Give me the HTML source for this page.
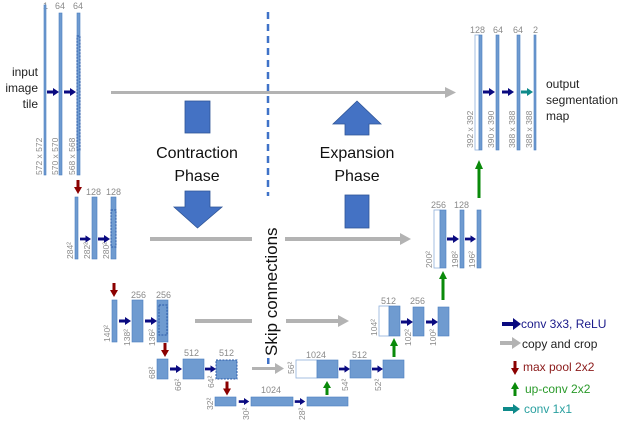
<!DOCTYPE html>
<html><head><meta charset="utf-8"><style>
html,body{margin:0;padding:0;background:#fff;}
svg{display:block;font-family:"Liberation Sans",sans-serif;}
.l{fill:#8a8a8a;font-size:9px;}
.r{fill:#8a8a8a;font-size:8.5px;}
.b{fill:#6f9bd0;stroke:#4a7fc0;stroke-width:0.6;}
.w{fill:#fff;stroke:#8fb0da;stroke-width:0.8;}
.d{fill:#6f9bd0;stroke:#2a5aa8;stroke-width:1;stroke-dasharray:2,1.2;}
.g{fill:#0a8a0a;}
</style></head><body>
<svg width="632" height="446" viewBox="0 0 632 446" xmlns="http://www.w3.org/2000/svg">
<defs>
<symbol id="na" viewBox="0 0 12 8" overflow="visible"><path d="M0,2.5H6V0L12,4L6,8V5.5H0Z" fill="#0a0a80"/></symbol>
<symbol id="ta" viewBox="0 0 12 8" overflow="visible"><path d="M0,2.5H6V0L12,4L6,8V5.5H0Z" fill="#0e8a8a"/></symbol>
<symbol id="ra" viewBox="0 0 8 14" overflow="visible"><path d="M2.5,0H5.5V7H8L4,14L0,7H2.5Z" fill="#8b0000"/></symbol>
</defs>

<!-- gray copy arrows -->
<g fill="#b3b3b3">
<rect x="111" y="91" width="336" height="3"/><path d="M445,87L456,92.5L445,98Z"/>
<rect x="150" y="237" width="102" height="4"/><rect x="285" y="237" width="116" height="4"/><path d="M400,233L411,239L400,245Z"/>
<rect x="195" y="319" width="57" height="4"/><rect x="286" y="319" width="53" height="4"/><path d="M338,315L349,321L338,327Z"/>
<rect x="252" y="367" width="24" height="3"/><path d="M275,363L284,368.5L275,374Z"/>
</g>

<!-- dashed vertical -->
<line x1="268" y1="12" x2="268" y2="196" stroke="#3f72c8" stroke-width="2.5" stroke-dasharray="7,5"/>
<rect x="267" y="358" width="2.5" height="6" fill="#3f72c8"/>
<text transform="translate(277,356) rotate(-90)" font-size="17" fill="#111">Skip connections</text>

<!-- big shapes -->
<rect x="185" y="101" width="25" height="32" fill="#4472c4" stroke="#2f5597" stroke-width="0.8"/>
<text x="197" y="158" font-size="16" text-anchor="middle" fill="#111">Contraction</text>
<text x="197" y="181" font-size="16" text-anchor="middle" fill="#111">Phase</text>
<path d="M185,191H210V207H222L197.5,228L174,207H185Z" fill="#4472c4" stroke="#2f5597" stroke-width="0.8"/>
<path d="M345,135H369V124H381L357,101L333,124H345Z" fill="#4472c4" stroke="#2f5597" stroke-width="0.8"/>
<text x="357" y="158" font-size="16" text-anchor="middle" fill="#111">Expansion</text>
<text x="357" y="181" font-size="16" text-anchor="middle" fill="#111">Phase</text>
<rect x="345" y="195" width="24" height="33" fill="#4472c4" stroke="#2f5597" stroke-width="0.8"/>

<!-- level 1 -->
<text x="43" y="9" class="l">1</text><text x="55" y="9" class="l">64</text><text x="73" y="9" class="l">64</text>
<rect x="44" y="5" width="2" height="170" class="b"/>
<rect x="59" y="13" width="3" height="162" class="b"/>
<rect x="77" y="13" width="3" height="162" class="b"/>
<rect x="77" y="36" width="3" height="114" class="d"/>
<text x="38" y="76" font-size="12" text-anchor="end" fill="#222">input</text>
<text x="38" y="92" font-size="12" text-anchor="end" fill="#222">image</text>
<text x="38" y="108" font-size="12" text-anchor="end" fill="#222">tile</text>
<use href="#na" x="47" y="88" width="12" height="8"/><use href="#na" x="64" y="88" width="12" height="8"/>
<text transform="translate(42,175) rotate(-90)" class="r">572 x 572</text>
<text transform="translate(58,175) rotate(-90)" class="r">570 x 570</text>
<text transform="translate(75,175) rotate(-90)" class="r">568 x 568</text>
<use href="#ra" x="74" y="180" width="8" height="14"/>

<!-- level 2 -->
<text x="86" y="195" class="l">128</text><text x="106" y="195" class="l">128</text>
<rect x="75" y="197" width="3" height="62" class="b"/>
<rect x="92" y="197" width="5" height="62" class="b"/>
<rect x="111" y="197" width="5" height="62" class="b"/>
<rect x="111" y="210" width="5" height="37" class="d"/>
<use href="#na" x="80" y="235" width="11" height="8"/><use href="#na" x="98" y="235" width="12" height="8"/>
<text transform="translate(73,259) rotate(-90)" class="r">284²</text>
<text transform="translate(90,259) rotate(-90)" class="r">282²</text>
<text transform="translate(109,259) rotate(-90)" class="r">280²</text>
<use href="#ra" x="110" y="283" width="8" height="14"/>

<!-- level 3 -->
<text x="131" y="298" class="l">256</text><text x="156" y="298" class="l">256</text>
<rect x="112" y="300" width="5" height="42" class="b"/>
<rect x="132" y="300" width="11" height="42" class="b"/>
<rect x="157" y="300" width="11" height="42" class="b"/>
<rect x="159" y="305" width="8" height="30" class="d"/>
<use href="#na" x="119" y="317" width="12" height="8"/><use href="#na" x="145" y="317" width="12" height="8"/>
<text transform="translate(110,342) rotate(-90)" class="r">140²</text>
<text transform="translate(130,346) rotate(-90)" class="r">138²</text>
<text transform="translate(155,346) rotate(-90)" class="r">136²</text>
<use href="#ra" x="161" y="343" width="8" height="14"/>

<!-- level 4 -->
<text x="184" y="356" class="l">512</text><text x="219" y="356" class="l">512</text>
<rect x="157" y="359" width="11" height="20" class="b"/>
<rect x="183" y="359" width="21" height="20" class="b"/>
<rect x="216" y="360" width="21" height="19" class="d"/>
<use href="#na" x="170" y="365" width="12" height="8"/><use href="#na" x="205" y="365" width="11" height="8"/>
<text transform="translate(155,379) rotate(-90)" class="r">68²</text>
<text transform="translate(181,391) rotate(-90)" class="r">66²</text>
<text transform="translate(214,388) rotate(-90)" class="r">64²</text>
<use href="#ra" x="223" y="381" width="8" height="15"/>

<!-- level 5 -->
<text x="261" y="393" class="l">1024</text>
<rect x="215" y="397" width="21" height="9" class="b"/>
<rect x="251" y="397" width="42" height="9" class="b"/>
<rect x="307" y="397" width="41" height="9" class="b"/>
<use href="#na" x="238" y="398" width="12" height="7"/><use href="#na" x="294" y="398" width="12" height="7"/>
<text transform="translate(213,410) rotate(-90)" class="r">32²</text>
<text transform="translate(249,420) rotate(-90)" class="r">30²</text>
<text transform="translate(305,420) rotate(-90)" class="r">28²</text>
<path class="g" d="M325.5,395V388H323L327,381L331,388H328.5V395Z"/>

<!-- right level 4 -->
<text x="306" y="358" class="l">1024</text><text x="352" y="358" class="l">512</text>
<rect x="296" y="360" width="21" height="18" class="w"/>
<rect x="317" y="360" width="21" height="18" class="b"/>
<rect x="350" y="360" width="21" height="18" class="b"/>
<rect x="383" y="360" width="21" height="18" class="b"/>
<use href="#na" x="339" y="365" width="11" height="8"/><use href="#na" x="372" y="365" width="11" height="8"/>
<text transform="translate(294,374) rotate(-90)" class="r">56²</text>
<text transform="translate(348,391) rotate(-90)" class="r">54²</text>
<text transform="translate(381,391) rotate(-90)" class="r">52²</text>
<path class="g" d="M392.5,357V346H390L394,338L398,346H395.5V357Z"/>

<!-- right level 3 -->
<text x="381" y="304" class="l">512</text><text x="410" y="304" class="l">256</text>
<rect x="379" y="306" width="10" height="30" class="w"/>
<rect x="389" y="306" width="11" height="30" class="b"/>
<rect x="413" y="307" width="11" height="29" class="b"/>
<rect x="438" y="307" width="11" height="29" class="b"/>
<use href="#na" x="401" y="318" width="12" height="8"/><use href="#na" x="426" y="318" width="12" height="8"/>
<text transform="translate(377,336) rotate(-90)" class="r">104²</text>
<text transform="translate(411,346) rotate(-90)" class="r">102²</text>
<text transform="translate(436,346) rotate(-90)" class="r">100²</text>
<path class="g" d="M441.5,300V279H439L443,271L447,279H444.5V300Z"/>

<!-- right level 2 -->
<text x="431" y="208" class="l">256</text><text x="454" y="208" class="l">128</text>
<rect x="434" y="210" width="6" height="58" class="w"/>
<rect x="440" y="210" width="6" height="58" class="b"/>
<rect x="460" y="210" width="4" height="58" class="b"/>
<rect x="477" y="210" width="4" height="58" class="b"/>
<use href="#na" x="447" y="235" width="12" height="8"/><use href="#na" x="465" y="235" width="11" height="8"/>
<text transform="translate(432,268) rotate(-90)" class="r">200²</text>
<text transform="translate(458,268) rotate(-90)" class="r">198²</text>
<text transform="translate(475,268) rotate(-90)" class="r">196²</text>
<path class="g" d="M477.5,198V169H475L479,160L483,169H480.5V198Z"/>

<!-- right level 1 -->
<text x="470" y="33" class="l">128</text><text x="493" y="33" class="l">64</text><text x="513" y="33" class="l">64</text><text x="533" y="33" class="l">2</text>
<rect x="475" y="35" width="4" height="115" class="w"/>
<rect x="479" y="35" width="3" height="115" class="b"/>
<rect x="496" y="35" width="3" height="115" class="b"/>
<rect x="517" y="35" width="3" height="115" class="b"/>
<rect x="534" y="35" width="2" height="115" class="b"/>
<use href="#na" x="483" y="88" width="12" height="8"/><use href="#na" x="502" y="88" width="12" height="8"/><use href="#ta" x="521" y="88" width="12" height="8"/>
<text transform="translate(473,148) rotate(-90)" class="r">392 x 392</text>
<text transform="translate(494,148) rotate(-90)" class="r">390 x 390</text>
<text transform="translate(515,148) rotate(-90)" class="r">388 x 388</text>
<text transform="translate(532,148) rotate(-90)" class="r">388 x 388</text>
<text x="546" y="88" font-size="12" fill="#222">output</text>
<text x="546" y="104" font-size="12" fill="#222">segmentation</text>
<text x="546" y="120" font-size="12" fill="#222">map</text>

<!-- legend -->
<path d="M502,322H513V318L521,324L513,330V326H502Z" fill="#0a0a80"/>
<text x="521" y="328" font-size="12" fill="#1a1a8a">conv 3x3, ReLU</text>
<path d="M500,341H512V337L521,343L512,349V345H500Z" fill="#b3b3b3"/>
<text x="522" y="348" font-size="12" fill="#222">copy and crop</text>
<use href="#ra" x="511" y="361" width="8" height="14"/>
<text x="523" y="371" font-size="12" fill="#8b1a1a">max pool 2x2</text>
<path class="g" d="M513.5,396V389H511L515,382L519,389H516.5V396Z"/>
<text x="525" y="393" font-size="12" fill="#2a9a2a">up-conv 2x2</text>
<path d="M503,407H513V404L520,409L513,414V411H503Z" fill="#0e8a8a"/>
<text x="524" y="413" font-size="12" fill="#2aa0a0">conv 1x1</text>
</svg>
</body></html>
